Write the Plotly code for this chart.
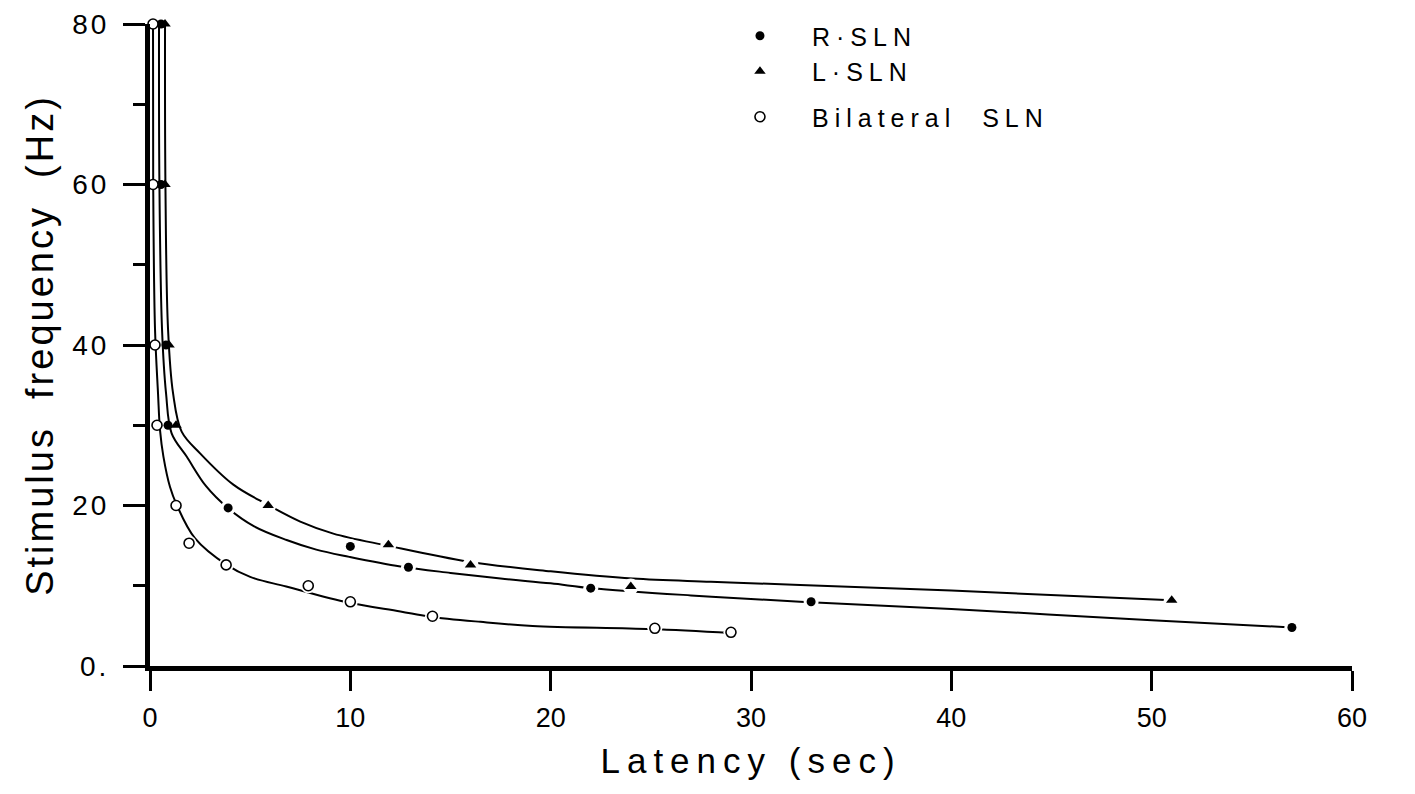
import plotly.graph_objects as go

# ---- data ----
# measured points (latency in sec, stimulus frequency in Hz)
r_sln_x = [0.55, 0.55, 0.8, 0.9, 3.9, 10.0, 12.9, 22.0, 33.0, 57.0]
r_sln_y = [80, 60, 40, 30, 19.7, 14.9, 12.3, 9.7, 8.0, 4.8]

l_sln_x = [0.75, 0.75, 0.95, 1.3, 5.9, 11.9, 16.0, 24.0, 51.0]
l_sln_y = [80, 60, 40, 30, 20.0, 15.1, 12.6, 9.9, 8.2]

bil_x = [0.15, 0.15, 0.25, 0.35, 1.3, 1.95, 3.8, 7.9, 10.0, 14.1, 25.2, 29.0]
bil_y = [80, 60, 40, 30, 20.0, 15.3, 12.6, 10.0, 8.0, 6.2, 4.7, 4.2]

# fitted curves drawn through the points
r_fit_x = [0.45, 0.47, 0.6, 0.8, 1.08, 1.83, 2.8, 3.88, 5.2, 6.82, 8.3, 9.95, 12.5,
           15, 17.5, 20, 22.05, 27, 32.45, 40, 50, 57]
r_fit_y = [80, 60, 42, 34, 29.0, 26.1, 22.4, 19.7, 17.4, 15.7, 14.5, 13.6, 12.4,
           11.6, 10.9, 10.3, 9.7, 8.8, 8.0, 7.1, 5.7, 4.8]

l_fit_x = [0.75, 0.77, 0.9, 1.15, 1.58, 2.5, 4.16, 5.87, 7.5, 9.15, 11.85, 15.9,
           20, 24.1, 28, 32.45, 40, 51]
l_fit_y = [80, 60, 42, 34, 29.2, 26.5, 22.6, 20.1, 18.0, 16.5, 15.0, 13.0,
           11.8, 10.9, 10.5, 10.1, 9.4, 8.2]

b_fit_x = [0.15, 0.16, 0.25, 0.4, 0.5, 0.67, 1.0, 1.33, 2.25, 3.83, 5.0, 6.8, 9.9,
           12.5, 13.95, 16.5, 19.1, 25.0, 29.0]
b_fit_y = [80, 60, 42, 34, 29.4, 26.1, 22.3, 20.1, 15.9, 12.6, 11.1, 9.9, 7.9,
           6.8, 6.15, 5.5, 5.0, 4.6, 4.1]

x_ticks = [0, 10, 20, 30, 40, 50, 60]
y_ticks = [0, 20, 40, 60, 80]
y_tick_text = ["0.", "20", "40", "60", "80"]
y_minor_ticks = [10, 30, 50, 70]

series_names = ["R\u00b7SLN", "L\u00b7SLN", "Bilateral\u00a0 SLN"]

FONT = "Liberation Sans, Arial, Helvetica, sans-serif"

fig = go.Figure()

# fitted curves
for fx, fy in [(r_fit_x, r_fit_y), (l_fit_x, l_fit_y), (b_fit_x, b_fit_y)]:
    fig.add_trace(go.Scatter(x=fx, y=fy, mode="lines", showlegend=False,
                             hoverinfo="skip",
                             line=dict(color="black", width=2, shape="spline", smoothing=1.0),
                             cliponaxis=False))

# white halos (gaps in the curves around the plotted points, away from the crowded axis)
for px, py, sz in [(r_sln_x, r_sln_y, 15), (l_sln_x, l_sln_y, 16), (bil_x, bil_y, 15)]:
    hx = [a for a in px if a > 1.5]
    hy = [b for a, b in zip(px, py) if a > 1.5]
    fig.add_trace(go.Scatter(x=hx, y=hy, mode="markers", showlegend=False,
                             hoverinfo="skip",
                             marker=dict(color="white", size=sz, line=dict(width=0)),
                             cliponaxis=False))

# data points
fig.add_trace(go.Scatter(x=r_sln_x, y=r_sln_y, mode="markers", name=series_names[0],
                         legendgroup="a",
                         marker=dict(symbol="circle", color="black", size=9),
                         cliponaxis=False))
fig.add_trace(go.Scatter(x=l_sln_x, y=l_sln_y, mode="markers", name=series_names[1],
                         legendgroup="a",
                         marker=dict(symbol="triangle-up", color="black", size=10),
                         cliponaxis=False))
fig.add_trace(go.Scatter(x=bil_x, y=bil_y, mode="markers", name=series_names[2],
                         legendgroup="b",
                         marker=dict(symbol="circle", color="white", size=10,
                                     line=dict(color="black", width=1.6)),
                         cliponaxis=False))

fig.update_layout(
    width=1415, height=794,
    margin=dict(l=150, r=63, t=24, b=128, autoexpand=False),
    plot_bgcolor="white", paper_bgcolor="white",
    font=dict(family=FONT, color="black"),
    showlegend=True,
    legend=dict(x=0.4642, y=0.9836, xanchor="left", yanchor="top", yref="container",
                bgcolor="rgba(0,0,0,0)", borderwidth=0,
                font=dict(size=25, family=FONT, color="black"),
                tracegroupgap=10, itemwidth=94, traceorder="grouped"),
    xaxis=dict(range=[0, 60], tickvals=x_ticks, ticks="outside", ticklen=20,
               tickwidth=3, tickcolor="black", showline=True, linewidth=5,
               linecolor="black", showgrid=False, zeroline=False,
               tickfont=dict(size=27, family=FONT), ticklabelstandoff=4,
               title=dict(text="Latency (sec)", font=dict(size=35, family=FONT),
                          standoff=18)),
    yaxis=dict(range=[0, 80], tickvals=y_ticks, ticktext=y_tick_text, ticks="outside",
               ticklen=22, tickwidth=3, tickcolor="black", showline=True, linewidth=5,
               linecolor="black", showgrid=False, zeroline=False,
               minor=dict(tickvals=y_minor_ticks, ticks="outside", ticklen=12,
                          tickwidth=3, tickcolor="black", showgrid=False),
               tickfont=dict(size=28, family=FONT), ticklabelstandoff=8,
               title=dict(text="Stimulus\u00a0 frequency\u00a0 (Hz)",
                          font=dict(size=38, family=FONT), standoff=14)),
)

post = """
var gd = document.getElementById('{plot_id}');
function ls(sel, v) { gd.querySelectorAll(sel).forEach(function(e){ e.style.letterSpacing = v; }); }
ls('.xtitle', '7px');
ls('.ytitle', '3px');
ls('.legendtext', '6px');
ls('.yaxislayer-above .ytick text', '3px');
gd.querySelectorAll('.legend .scrollbox, .legend').forEach(function(e){ e.removeAttribute('clip-path'); });
"""

fig.write_html("out.html", post_script=post)
